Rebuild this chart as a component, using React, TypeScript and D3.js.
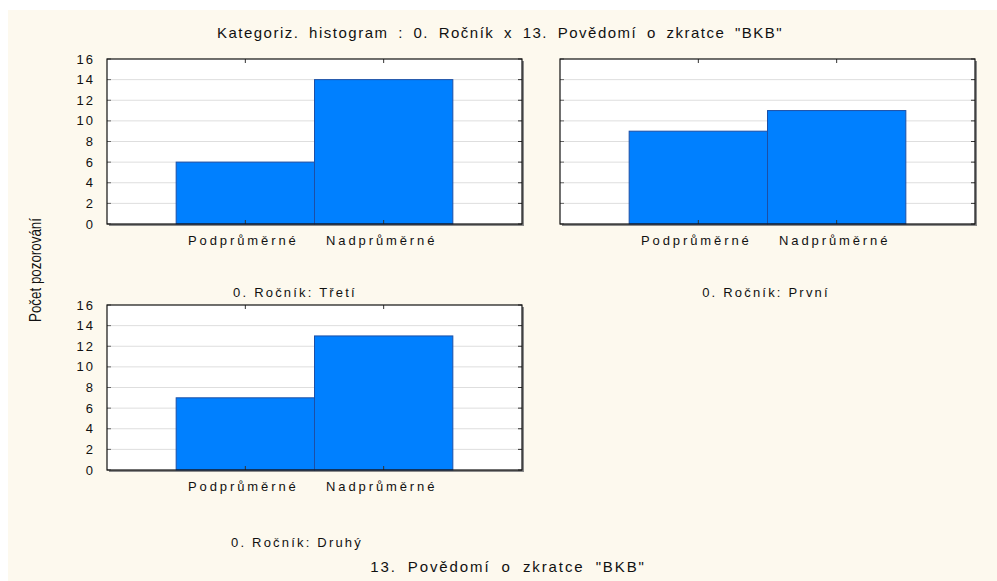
import React, { useEffect, useRef } from 'react';
import * as d3 from 'd3';

const title = 'Kategoriz. histogram : 0. Ročník x 13. Povědomí o zkratce "BKB"';
const xTitle = '13. Povědomí o zkratce "BKB"';
const yTitle = 'Počet pozorování';

const categories = ['Podprůměrné', 'Nadprůměrné'];
const panelNames = ['Třetí', 'První', 'Druhý'];
const tretiValues = [6, 14];
const prvniValues = [9, 11];
const druhyValues = [7, 13];
const yTicks = [0, 2, 4, 6, 8, 10, 12, 14, 16];

const W = 997;
const H = 581;
const panelW = 415;
const panelH = 165;
const font = '"Liberation Sans", Arial, sans-serif';

// where each small chart sits
const layout = [
  { x: 107, y: 59, labelX: 295, labelY: 297, yLabels: true },
  { x: 560, y: 59, labelX: 766, labelY: 297, yLabels: false },
  { x: 107, y: 305, labelX: 297, labelY: 547, yLabels: true },
];

const App = () => {
  const ref = useRef<SVGSVGElement>(null);

  useEffect(() => {
    const svg = d3.select(ref.current);
    svg.selectAll('*').remove();

    svg.append('rect')
      .attr('x', 8).attr('y', 10)
      .attr('width', W - 8).attr('height', H - 10)
      .style('fill', '#fdf9ee');

    svg.append('text')
      .attr('x', 500).attr('y', 38)
      .attr('text-anchor', 'middle')
      .style('font-size', '15px')
      .style('letter-spacing', '1.5px')
      .style('word-spacing', '4px')
      .style('fill', '#111')
      .text(title);

    svg.append('text')
      .attr('x', 508).attr('y', 572)
      .attr('text-anchor', 'middle')
      .style('font-size', '15px')
      .style('letter-spacing', '1.9px')
      .style('word-spacing', '5px')
      .style('fill', '#111')
      .text(xTitle);

    svg.append('text')
      .attr('transform', 'translate(41, 218) rotate(-90)')
      .attr('text-anchor', 'end')
      .attr('textLength', 104)
      .attr('lengthAdjust', 'spacingAndGlyphs')
      .style('font-size', '17px')
      .style('fill', '#111')
      .text(yTitle);

    const x = d3.scaleBand().domain(categories).range([0, panelW]).paddingInner(0).paddingOuter(0.5);
    const y = d3.scaleLinear().domain([0, 16]).range([panelH, 0]);

    const allValues = [tretiValues, prvniValues, druhyValues];

    allValues.forEach((vals, i) => {
      const p = layout[i];
      const g = svg.append('g').attr('transform', `translate(${p.x},${p.y})`);
      const data = categories.map((c, j) => ({ cat: c, v: vals[j] }));

      // shadow + white plot area
      g.append('rect')
        .attr('x', 2).attr('y', 2).attr('width', panelW).attr('height', panelH)
        .style('fill', '#8a8a8a');
      g.append('rect')
        .attr('width', panelW).attr('height', panelH)
        .style('fill', 'white');

      // grid
      g.selectAll('.grid').data(yTicks.slice(1, -1)).enter().append('line')
        .attr('x1', 0).attr('x2', panelW)
        .attr('y1', (d) => y(d)).attr('y2', (d) => y(d))
        .style('stroke', '#dedede').style('stroke-width', 1);

      // inner ticks on left/right
      g.selectAll('.rt').data(yTicks).enter().append('line')
        .attr('x1', panelW - 4).attr('x2', panelW)
        .attr('y1', (d) => y(d)).attr('y2', (d) => y(d))
        .style('stroke', '#333');
      g.selectAll('.lt').data(yTicks).enter().append('line')
        .attr('x1', 0).attr('x2', 4)
        .attr('y1', (d) => y(d)).attr('y2', (d) => y(d))
        .style('stroke', '#666');

      // bars
      g.selectAll('.bar').data(data).enter().append('rect')
        .attr('x', (d) => x(d.cat))
        .attr('y', (d) => y(d.v))
        .attr('width', x.bandwidth())
        .attr('height', (d) => panelH - y(d.v))
        .style('fill', '#0080ff')
        .style('stroke', '#1c4fa6')
        .style('stroke-width', 1);

      // top/bottom ticks
      categories.forEach((c) => {
        const cx = x(c) + x.bandwidth() / 2;
        g.append('line').attr('x1', cx).attr('x2', cx).attr('y1', 0).attr('y2', 4).style('stroke', '#333');
        g.append('line').attr('x1', cx).attr('x2', cx).attr('y1', panelH - 4).attr('y2', panelH).style('stroke', '#333');
      });

      // frame
      g.append('rect')
        .attr('width', panelW).attr('height', panelH)
        .style('fill', 'none').style('stroke', '#111').style('stroke-width', 1.2);

      // y tick labels (only the left column)
      if (p.yLabels) {
        g.selectAll('.yl').data(yTicks).enter().append('text')
          .attr('x', -12).attr('y', (d) => y(d) + 4.5)
          .attr('text-anchor', 'end')
          .style('font-size', '13px')
          .style('letter-spacing', '2px')
          .style('fill', '#111')
          .text((d) => d);
      }

      // category labels
      g.selectAll('.xl').data(categories).enter().append('text')
        .attr('x', (d) => x(d) + x.bandwidth() / 2 - 2)
        .attr('y', panelH + 21)
        .attr('text-anchor', 'middle')
        .style('font-size', '13px')
        .style('letter-spacing', '2.9px')
        .style('fill', '#111')
        .text((d) => d);

      svg.append('text')
        .attr('x', p.labelX).attr('y', p.labelY)
        .attr('text-anchor', 'middle')
        .style('font-size', '13px')
        .style('letter-spacing', '2.2px')
        .style('fill', '#111')
        .text(`0. Ročník: ${panelNames[i]}`);
    });

    svg.selectAll('text').style('font-family', font);
  }, []);

  return (
    <svg
      ref={ref}
      width={W}
      height={H}
      style={{ position: 'absolute', left: 0, top: 0, background: 'white' }}
    />
  );
};

export default App;
